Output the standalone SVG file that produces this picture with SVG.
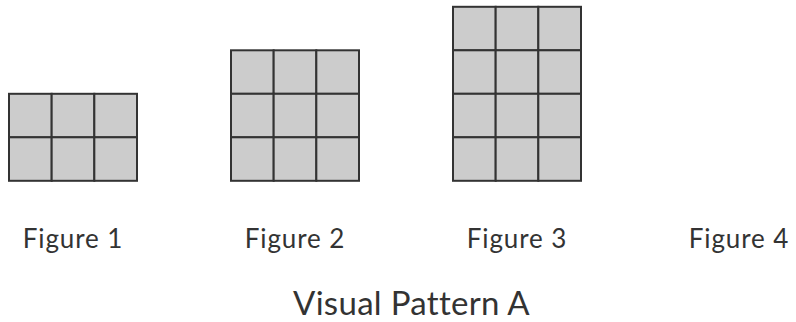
<svg xmlns="http://www.w3.org/2000/svg" width="796" height="322" viewBox="0 0 796 322">
<style>
.cell{fill:#cccccc;stroke:#333333;stroke-width:2}
.lbl{font-family:Lato,"Open Sans",sans-serif;font-size:26px;letter-spacing:0.9px;fill:#333333;text-anchor:middle}
.title{font-family:Lato,"Open Sans",sans-serif;font-size:33px;letter-spacing:0.3px;fill:#333333;text-anchor:middle}
</style>
<rect width="796" height="322" fill="#ffffff"/>
<defs>
<rect id="c" class="cell" width="42.67" height="43.5"/>
</defs>
<g id="figure1">
<use href="#c" x="9" y="93.8"/><use href="#c" x="51.67" y="93.8"/><use href="#c" x="94.33" y="93.8"/>
<use href="#c" x="9" y="137.3"/><use href="#c" x="51.67" y="137.3"/><use href="#c" x="94.33" y="137.3"/>
<text class="lbl" x="73" y="248">Figure 1</text>
</g>
<g id="figure2">
<use href="#c" x="231" y="50.3"/><use href="#c" x="273.67" y="50.3"/><use href="#c" x="316.33" y="50.3"/>
<use href="#c" x="231" y="93.8"/><use href="#c" x="273.67" y="93.8"/><use href="#c" x="316.33" y="93.8"/>
<use href="#c" x="231" y="137.3"/><use href="#c" x="273.67" y="137.3"/><use href="#c" x="316.33" y="137.3"/>
<text class="lbl" x="295" y="248">Figure 2</text>
</g>
<g id="figure3">
<use href="#c" x="453" y="6.8"/><use href="#c" x="495.67" y="6.8"/><use href="#c" x="538.33" y="6.8"/>
<use href="#c" x="453" y="50.3"/><use href="#c" x="495.67" y="50.3"/><use href="#c" x="538.33" y="50.3"/>
<use href="#c" x="453" y="93.8"/><use href="#c" x="495.67" y="93.8"/><use href="#c" x="538.33" y="93.8"/>
<use href="#c" x="453" y="137.3"/><use href="#c" x="495.67" y="137.3"/><use href="#c" x="538.33" y="137.3"/>
<text class="lbl" x="517" y="248">Figure 3</text>
</g>
<g id="figure4">
<text class="lbl" x="739" y="248">Figure 4</text>
</g>
<text id="title" class="title" x="411.5" y="314.8">Visual Pattern A</text>
</svg>
